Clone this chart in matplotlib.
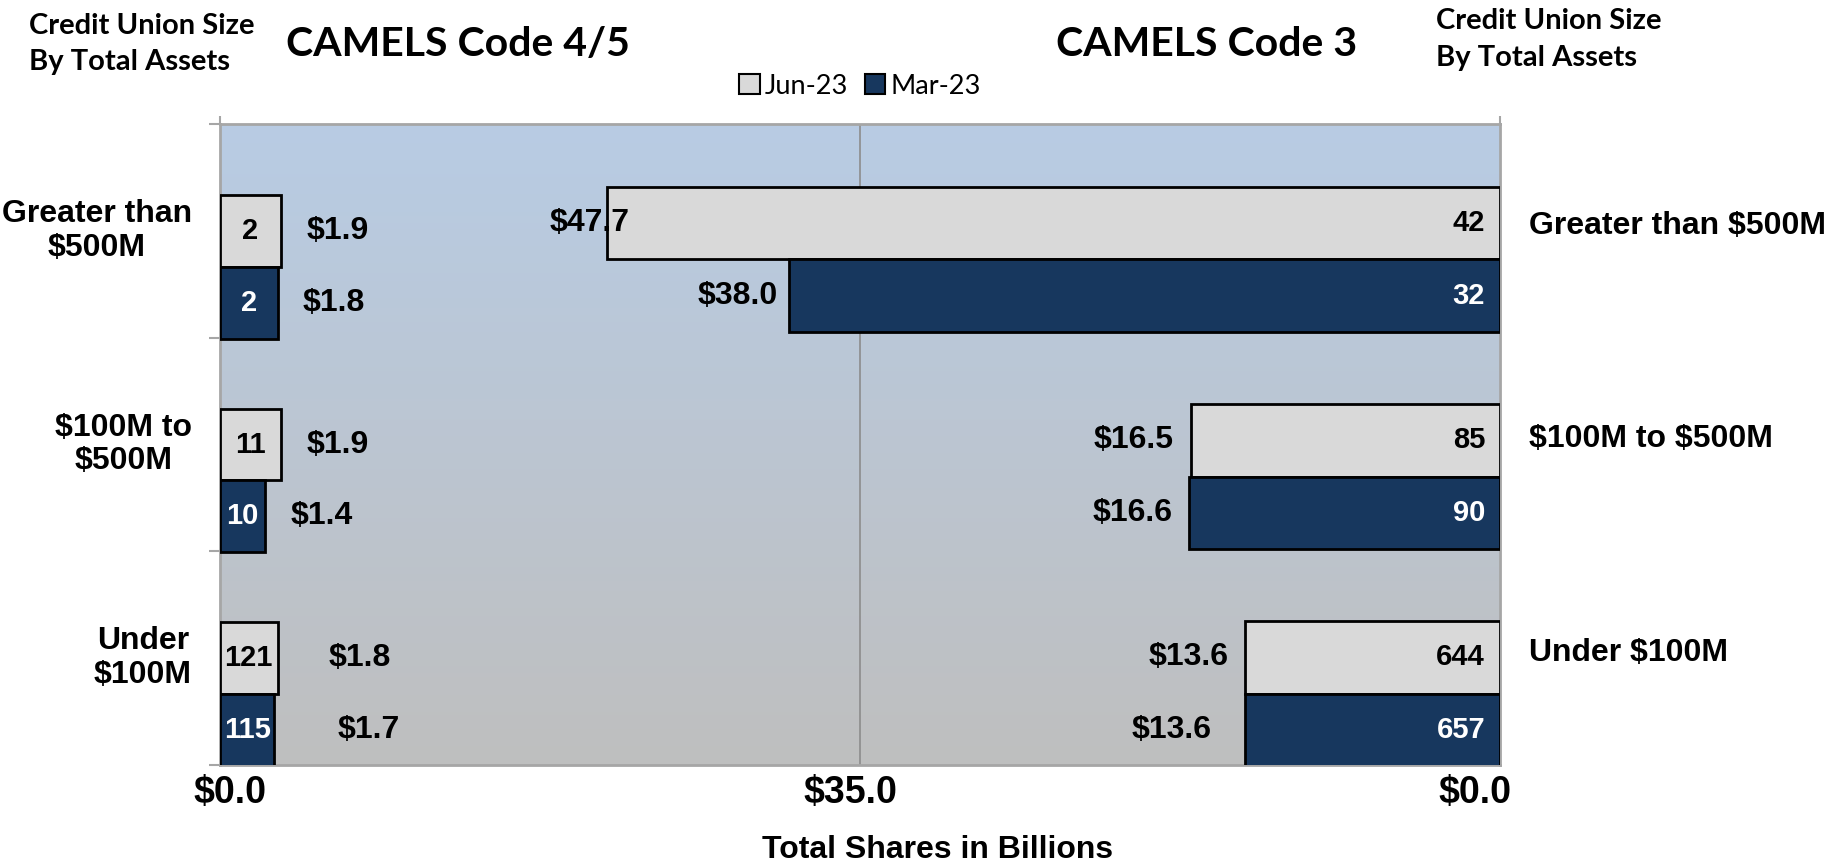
import matplotlib
matplotlib.use("Agg")
import matplotlib.pyplot as plt
import numpy as np
from matplotlib.patches import Patch
from matplotlib.transforms import offset_copy
from matplotlib.colors import to_rgb

# ---------------- data ----------------
categories = ["Greater than $500M", "$100M to $500M", "Under $100M"]
left_cat_labels = ["Greater than\n$500M", "$100M to\n$500M", "Under\n$100M"]
series = ["Jun-23", "Mar-23"]

# CAMELS Code 4/5 (total shares, $B, and number of credit unions)
c45_shares_jun = [1.9, 1.9, 1.8]
c45_shares_mar = [1.8, 1.4, 1.7]
c45_count_jun = [2, 11, 121]
c45_count_mar = [2, 10, 115]

# CAMELS Code 3
c3_shares_jun = [47.7, 16.5, 13.6]
c3_shares_mar = [38.0, 16.6, 13.6]
c3_count_jun = [42, 85, 644]
c3_count_mar = [32, 90, 657]

xtick_labels = ["$0.0", "$35.0", "$0.0"]

# ---------------- style ----------------
W, H = 1843, 868
DPI = 100
col_jun = "#D9D9D9"
col_mar = "#17375E"
grid_col = "#8C8C8C"
spine_col = "#A6A6A6"
ARIAL = ["Liberation Sans", "DejaVu Sans"]
CAL = ["Lato", "DejaVu Sans"]

fig = plt.figure(figsize=(W / DPI, H / DPI), dpi=DPI)
fig.patch.set_facecolor("white")

ax_left_px, ax_top_px, ax_w_px, ax_h_px = 220, 124, 1280, 641
rect = [ax_left_px / W, 1 - (ax_top_px + ax_h_px) / H, ax_w_px / W, ax_h_px / H]

ax = fig.add_axes(rect)    # CAMELS 3 (bars grow right -> left)
ax2 = fig.add_axes(rect)   # CAMELS 4/5 (bars grow left -> right)
ax2.set_facecolor("none")

# gradient background
top_c = np.array(to_rgb("#B8CCE4"))
bot_c = np.array(to_rgb("#BFBFBF"))
t = np.linspace(0, 1, 256)[:, None]
grad = (top_c[None, :] * (1 - t) + bot_c[None, :] * t)[:, None, :]
ax.imshow(grad, extent=[0, 1, 0, 1], transform=ax.transAxes, aspect="auto",
          zorder=0, interpolation="bilinear")

x_max_right = 68.4
x_max_left = 40.0
n = len(categories)
y = np.arange(n)

# --- right side (CAMELS 3)
h_r = 0.334
ax.set_xlim(x_max_right, 0)
ax.set_ylim(2.329, -0.624)
ax.barh(y - h_r / 2, c3_shares_jun, height=h_r, left=0, color=col_jun,
        edgecolor="black", linewidth=2, zorder=3)
ax.barh(y + h_r / 2, c3_shares_mar, height=h_r, left=0, color=col_mar,
        edgecolor="black", linewidth=2, zorder=3)
ax.axvline(x_max_right / 2, color=grid_col, lw=1.2, zorder=1)

# --- left side (CAMELS 4/5)
h_l = 0.337
ax2.set_xlim(0, x_max_left)
ax2.set_ylim(2.333, -0.670)
ax2.barh(y - h_l / 2, c45_shares_jun, height=h_l, color=col_jun,
         edgecolor="black", linewidth=2, zorder=3)
ax2.barh(y + h_l / 2, c45_shares_mar, height=h_l, color=col_mar,
         edgecolor="black", linewidth=2, zorder=3)

# spines / ticks
for a in (ax, ax2):
    a.set_xticks([])
    a.set_yticks([])
for s in ax.spines.values():
    s.set_color(spine_col)
    s.set_linewidth(2)
for s in ax2.spines.values():
    s.set_visible(False)
ylo, yhi = ax2.get_ylim()
ax2.set_yticks([ylo + k * (yhi - ylo) / 3 for k in range(4)])
ax2.set_yticklabels([])
ax2.tick_params(axis="y", length=8, width=1.5, color=spine_col, direction="out")
ax2.xaxis.set_ticks_position("top")
ax2.set_xticks([0, x_max_left])
ax2.set_xticklabels([])
ax2.tick_params(axis="x", length=6, width=1.5, color=spine_col, direction="out")

# ---------------- labels ----------------
lab_font = dict(family=ARIAL, weight="bold", fontsize=23, parse_math=False)
cnt_font = dict(family=ARIAL, weight="bold", fontsize=21, parse_math=False)

# left value labels (pixel offsets from bar end)
off_jun_l = [26, 26, 51]
off_mar_l = [25, 26, 63]
for i in range(n):
    tr = offset_copy(ax2.transData, fig=fig, x=off_jun_l[i], y=0, units="dots")
    ax2.text(c45_shares_jun[i], y[i] - h_l / 2, f"${c45_shares_jun[i]:.1f}",
             transform=tr, ha="left", va="center", zorder=5, **lab_font)
    tr = offset_copy(ax2.transData, fig=fig, x=off_mar_l[i], y=0, units="dots")
    ax2.text(c45_shares_mar[i], y[i] + h_l / 2, f"${c45_shares_mar[i]:.1f}",
             transform=tr, ha="left", va="center", zorder=5, **lab_font)
    ax2.text(c45_shares_jun[i] / 2, y[i] - h_l / 2, str(c45_count_jun[i]),
             ha="center", va="center", color="black", zorder=5, **cnt_font)
    ax2.text(c45_shares_mar[i] / 2, y[i] + h_l / 2, str(c45_count_mar[i]),
             ha="center", va="center", color="white", zorder=5, **cnt_font)

# right value labels
off_jun_r = [22, -18, -17]
off_mar_r = [-11, -17, -34]
for i in range(n):
    tr = offset_copy(ax.transData, fig=fig, x=off_jun_r[i], y=0, units="dots")
    ax.text(c3_shares_jun[i], y[i] - h_r / 2, f"${c3_shares_jun[i]:.1f}",
            transform=tr, ha="right", va="center", zorder=5, **lab_font)
    tr = offset_copy(ax.transData, fig=fig, x=off_mar_r[i], y=0, units="dots")
    ax.text(c3_shares_mar[i], y[i] + h_r / 2, f"${c3_shares_mar[i]:.1f}",
            transform=tr, ha="right", va="center", zorder=5, **lab_font)
    tr = offset_copy(ax.transData, fig=fig, x=-15, y=0, units="dots")
    ax.text(0, y[i] - h_r / 2, str(c3_count_jun[i]), transform=tr,
            ha="right", va="center", color="black", zorder=5, **cnt_font)
    ax.text(0, y[i] + h_r / 2, str(c3_count_mar[i]), transform=tr,
            ha="right", va="center", color="white", zorder=5, **cnt_font)

# category labels
cat_font = dict(family=ARIAL, weight="bold", fontsize=23, parse_math=False)
for k in range(n):
    yc = 1 - (k + 0.5) / 3
    ax.text(-28 / ax_w_px, yc, left_cat_labels[k], transform=ax.transAxes,
            ha="right", va="center", multialignment="center",
            linespacing=1.15, **cat_font)
    ax.text(1 + 29 / ax_w_px, yc + 5 / ax_h_px, categories[k],
            transform=ax.transAxes, ha="left", va="center", **cat_font)

# x tick labels
tick_font = dict(family=ARIAL, weight="bold", fontsize=27, parse_math=False)
for xp, lab in zip([230, 850, 1475], xtick_labels):
    fig.text(xp / W, 1 - 793 / H, lab, ha="center", va="center", **tick_font)

fig.text(938 / W, 1 - 850 / H, "Total Shares in Billions", ha="center",
         va="center", family=ARIAL, weight="bold", fontsize=23)

# titles
fig.text(286 / W, 1 - 56 / H, "CAMELS Code 4/5", ha="left", va="baseline",
         family=CAL, weight="bold", fontsize=29.5)
fig.text(1056 / W, 1 - 56 / H, "CAMELS Code 3", ha="left", va="baseline",
         family=CAL, weight="bold", fontsize=29.5)
fig.text(29 / W, 1 - 34 / H, "Credit Union Size", ha="left", va="baseline",
         family=CAL, weight="bold", fontsize=21)
fig.text(29 / W, 1 - 70 / H, "By Total Assets", ha="left", va="baseline",
         family=CAL, weight="bold", fontsize=21)
fig.text(1436 / W, 1 - 29 / H, "Credit Union Size", ha="left", va="baseline",
         family=CAL, weight="bold", fontsize=21)
fig.text(1436 / W, 1 - 66 / H, "By Total Assets", ha="left", va="baseline",
         family=CAL, weight="bold", fontsize=21)

# legend
handles = [Patch(facecolor=col_jun, edgecolor="black", linewidth=1.5),
           Patch(facecolor=col_mar, edgecolor="black", linewidth=1.5)]
fig.legend(handles, series, loc="center", bbox_to_anchor=(860 / W, 1 - 86 / H),
           ncol=2, frameon=False, prop=dict(family=CAL, size=19.5),
           handlelength=0.75, handleheight=0.75, handletextpad=0.2,
           columnspacing=0.6, borderpad=0)

fig.savefig("out.png", dpi=DPI)
